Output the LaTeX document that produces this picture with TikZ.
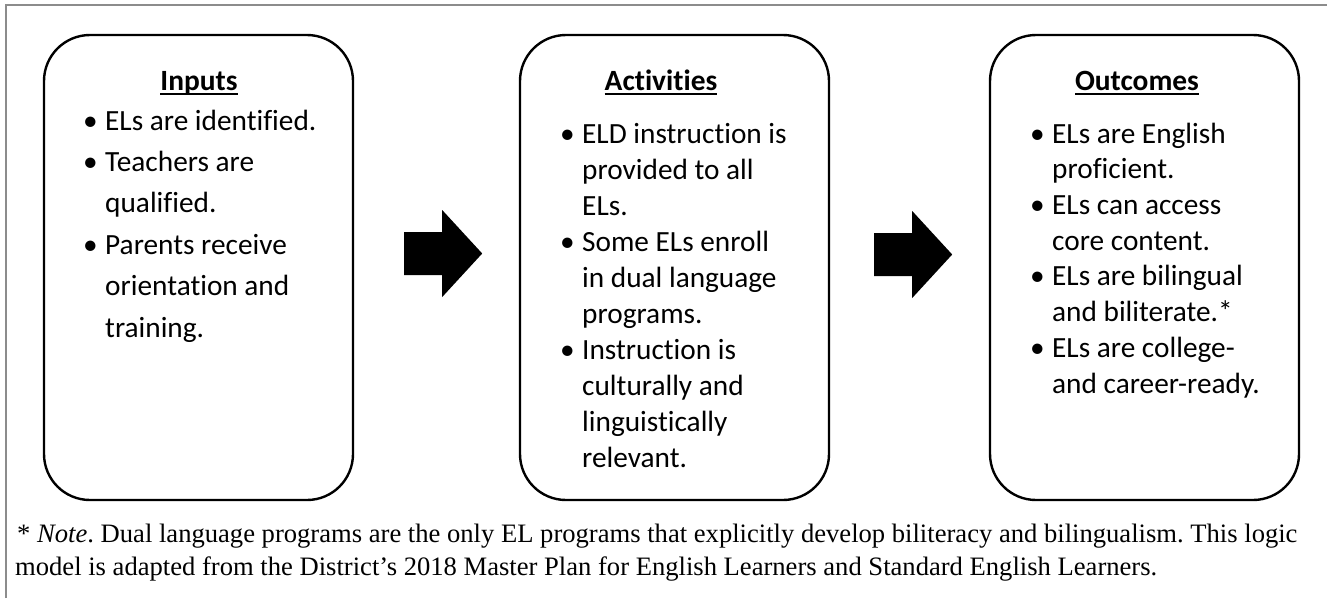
\documentclass[tikz,border=0pt]{standalone}
\usepackage{fontspec}
\setmainfont{Carlito}[Ligatures={NoCommon}]
\newfontfamily\notefont{Liberation Serif}
\usetikzlibrary{calc}
\frenchspacing

% word with a fixed-depth underline, as in a word processor
\newcommand\ulword[1]{\setbox0\hbox{#1}\rlap{\rule[-5pt]{\wd0}{1.6pt}}\box0}
% bullet and hanging indent for the list lines
\newcommand\blt{\makebox[22pt][l]{\textbullet}}
\newcommand\hng{\hspace*{22pt}}

\begin{document}
\begin{tikzpicture}[x=1pt,y=-1pt,
  panel/.style={draw=black, line width=2.4pt, rounded corners=46pt,
    minimum width=309pt, minimum height=465pt, inner sep=0pt},
  heading/.style={anchor=base, inner sep=0pt,
    font=\fontsize{29.4}{34}\selectfont\bfseries},
  itemlist/.style={anchor=base west, inner sep=0pt, align=left},
  blockarrow/.style={fill=black, draw=none},
  frameline/.style={draw=black!45, line width=2pt},
  notetext/.style={anchor=base west, inner sep=0pt, align=left,
    font=\notefont\fontsize{26.6}{33}\selectfont}]

\useasboundingbox (0,0) rectangle (1327,598);

% outer frame (top and left edges)
\draw[frameline] (6,598) -- (6,5) -- (1327,5);

% the three panels
\node[panel] (inputs)     at (198.5,267.5) {};
\node[panel] (activities) at (674.5,267.5) {};
\node[panel] (outcomes)   at (1144.5,267.5) {};

% headings
\node[heading] (hin)  at (199,90)  {\ulword{Inputs}};
\node[heading] (hact) at (661,90)  {\ulword{Activities}};
\node[heading] (hout) at (1137,90) {\ulword{Outcomes}};

% lists (anchored at the baseline of their last line)
\node[itemlist, font=\fontsize{29.3}{41.4}\selectfont] (lin) at (83,337) {%
\blt ELs are identified.\\
\blt Teachers are\\
\hng qualified.\\
\blt Parents receive\\
\hng orientation and\\
\hng training.};

\node[itemlist, font=\fontsize{29.3}{36}\selectfont] (lact) at (560,467) {%
\blt ELD instruction is\\
\hng provided to all\\
\hng ELs.\\
\blt Some ELs enroll\\
\hng in dual language\\
\hng programs.\\
\blt Instruction is\\
\hng culturally and\\
\hng linguistically\\
\hng relevant.};

\node[itemlist, font=\fontsize{29.3}{35.7}\selectfont] (lout) at (1030,393) {%
\blt ELs are English\\
\hng proficient.\\
\blt ELs can access\\
\hng core content.\\
\blt ELs are bilingual\\
\hng and biliterate.*\\
\blt ELs are college-\\
\hng and career-ready.};

% block arrows between the panels
\path[blockarrow] ($(inputs.east)+(50,-35.5)$) -- ++(38,0) -- ++(0,-22) -- ++(40,43.5)
  -- ++(-40,43.5) -- ++(0,-22) -- ++(-38,0) -- cycle;
\path[blockarrow] ($(activities.east)+(44,-34.5)$) -- ++(38,0) -- ++(0,-22) -- ++(40,43.5)
  -- ++(-40,43.5) -- ++(0,-22) -- ++(-38,0) -- cycle;

% note under the panels (anchored at the baseline of its last line)
\node[notetext] (note) at (15,575) {%
\hspace*{2pt}* \textit{Note}. Dual language programs are the only EL programs that explicitly develop biliteracy and bilingualism. This logic\\
model is adapted from the District’s 2018 Master Plan for English Learners and Standard English Learners.};

\end{tikzpicture}
\end{document}
